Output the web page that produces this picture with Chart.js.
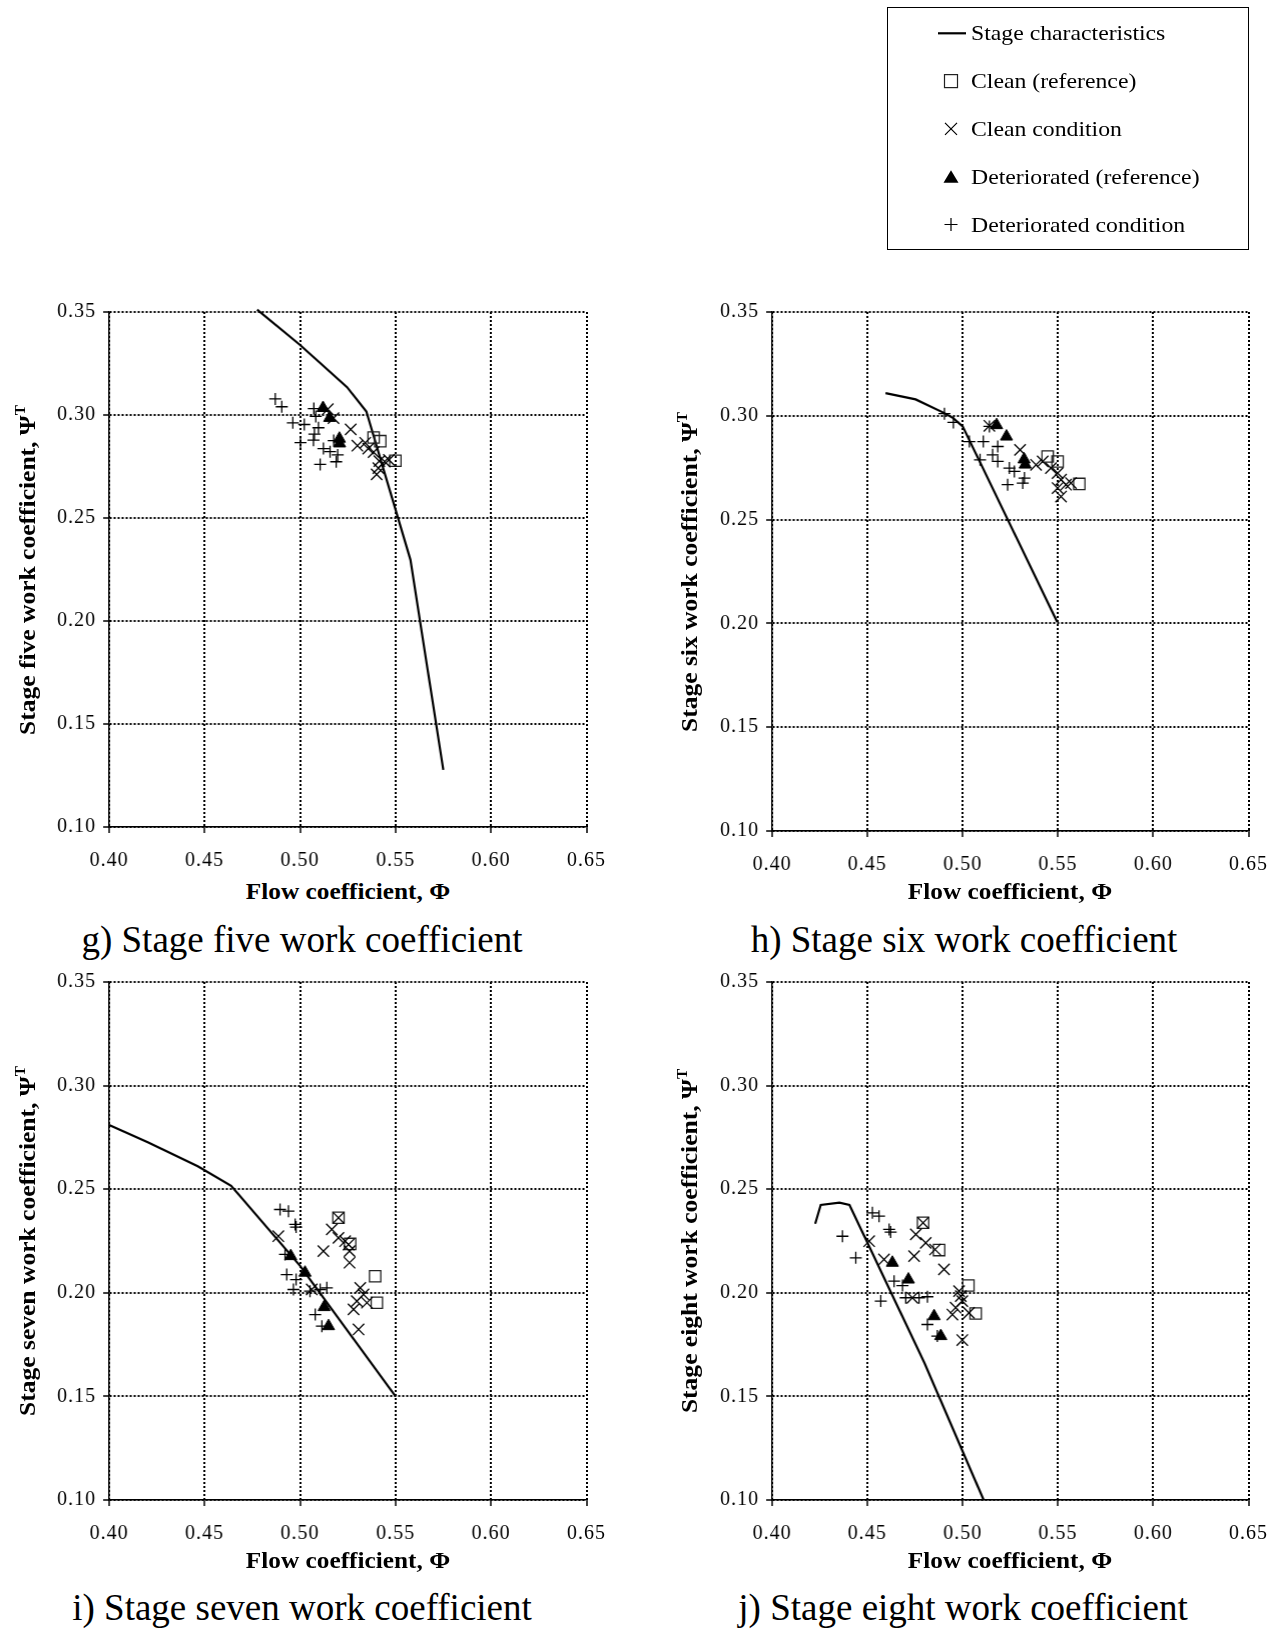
<!DOCTYPE html>
<html>
<head>
<meta charset="utf-8">
<script src="https://cdn.jsdelivr.net/npm/chart.js@4.4.1/dist/chart.umd.min.js"></script>
<style>
  html, body { margin: 0; padding: 0; background: #fff; }
  body { width: 1287px; height: 1632px; position: relative; overflow: hidden;
         font-family: 'Liberation Serif', 'Times New Roman', serif; color: #000; }
  canvas { position: absolute; }
  .legend-box { position: absolute; left: 887px; top: 7px; width: 362px; height: 243px;
                border: 1px solid #000; box-sizing: border-box; }
  .legend-text { position: absolute; font-size: 21px; line-height: 26px; height: 26px;
                 white-space: nowrap; transform: scaleX(1.13); transform-origin: left center; }
  .x-title { position: absolute; width: 400px; text-align: center; font-weight: bold;
             font-size: 23px; line-height: 28px; white-space: nowrap; transform: scaleX(1.1); }
  .y-title { position: absolute; width: 500px; height: 30px; text-align: center; font-weight: bold;
             font-size: 23px; line-height: 30px; white-space: nowrap;
             transform: rotate(-90deg) scaleX(1.11); transform-origin: center center; }
  .y-title sup { font-size: 0.6em; line-height: 0; vertical-align: 0.75em; }
  .caption { position: absolute; width: 600px; text-align: center; font-size: 37px;
             line-height: 44px; white-space: nowrap; }
</style>
</head>
<body>
<div class="legend-box"></div>
<canvas id="legendMarks" width="362" height="243" style="left:887px;top:7px;"></canvas>
<canvas id="c5"></canvas>
<canvas id="c6"></canvas>
<canvas id="c7"></canvas>
<canvas id="c8"></canvas>

<script>
// ---- axis ticks ----
const flowTicks = [0.40, 0.45, 0.50, 0.55, 0.60, 0.65];
const workTicks = [0.10, 0.15, 0.20, 0.25, 0.30, 0.35];

// ---- series names ----
const seriesNames = ['Stage characteristics', 'Clean (reference)', 'Clean condition',
                     'Deteriorated (reference)', 'Deteriorated condition'];

// ---- panel text ----
const panelCaptions = ['g) Stage five work coefficient', 'h) Stage six work coefficient',
                       'i) Stage seven work coefficient', 'j) Stage eight work coefficient'];
const yTitles = ['Stage five work coefficient, ', 'Stage six work coefficient, ',
                 'Stage seven work coefficient, ', 'Stage eight work coefficient, '];
const xTitle = 'Flow coefficient, \u03A6';

// ---- stage five: [flow coefficient, work coefficient] ----
const stage5Curve = [[0.4775,0.3512],[0.5000,0.3340],[0.5246,0.3135],[0.5347,0.3017],[0.5578,0.2297],[0.5750,0.1277]];
const stage5CleanRef = [[0.5385,0.2891],[0.5420,0.2873],[0.5499,0.2778]];
const stage5Clean = [[0.5145,0.3028],[0.5175,0.2985],[0.5265,0.2930],[0.5300,0.2851],[0.5341,0.2865],[0.5357,0.2837],
                     [0.5385,0.2820],[0.5415,0.2776],[0.5443,0.2774],[0.5465,0.2782],[0.5410,0.2742],[0.5401,0.2712]];
const stage5DetRef = [[0.5120,0.3034],[0.5155,0.2986],[0.5206,0.2885],[0.5207,0.2862]];
const stage5Det = [[0.4870,0.3078],[0.4904,0.3040],[0.5072,0.3031],[0.5082,0.2993],[0.4962,0.2962],[0.5022,0.2954],
                   [0.5096,0.2938],[0.5075,0.2907],[0.5070,0.2878],[0.5002,0.2866],[0.5122,0.2837],[0.5157,0.2822],
                   [0.5197,0.2806],[0.5189,0.2773],[0.5105,0.2760],[0.5176,0.2876]];

// ---- stage six ----
const stage6Curve = [[0.4595,0.3109],[0.4753,0.3079],[0.4904,0.3013],[0.4950,0.2989],[0.5000,0.2949],[0.5496,0.2007]];
const stage6CleanRef = [[0.5446,0.2804],[0.5498,0.2780],[0.5612,0.2672]];
const stage6Clean = [[0.5140,0.2952],[0.5301,0.2836],[0.5385,0.2764],[0.5420,0.2780],[0.5463,0.2748],[0.5498,0.2724],
                     [0.5516,0.2692],[0.5498,0.2652],[0.5542,0.2668],[0.5516,0.2611],[0.5568,0.2676]];
const stage6DetRef = [[0.5178,0.2955],[0.5230,0.2900],[0.5322,0.2790],[0.5328,0.2765]];
const stage6Det = [[0.4904,0.3010],[0.4951,0.2968],[0.5035,0.2876],[0.5108,0.2876],[0.5091,0.2788],[0.5157,0.2812],
                   [0.5184,0.2780],[0.5184,0.2852],[0.5245,0.2748],[0.5271,0.2732],[0.5324,0.2700],[0.5315,0.2676],
                   [0.5236,0.2668],[0.5140,0.2949]];

// ---- stage seven ----
const stage7Curve = [[0.4000,0.2810],[0.4205,0.2725],[0.4464,0.2611],[0.4639,0.2516],[0.5000,0.2130],[0.5500,0.1500]];
const stage7CleanRef = [[0.5201,0.2362],[0.5262,0.2236],[0.5393,0.2080],[0.5402,0.1952]];
const stage7Clean = [[0.5201,0.2362],[0.5166,0.2306],[0.5201,0.2265],[0.5122,0.2201],[0.5236,0.2249],[0.5254,0.2233],
                     [0.5259,0.2201],[0.5259,0.2145],[0.4886,0.2273],[0.5061,0.2016],[0.5315,0.2024],[0.5332,0.1992],
                     [0.5297,0.1960],[0.5280,0.1920],[0.5350,0.1952],[0.5306,0.1823]];
const stage7DetRef = [[0.4951,0.2177],[0.5026,0.2097],[0.5126,0.1931],[0.5149,0.1839]];
const stage7Det = [[0.4895,0.2402],[0.4939,0.2394],[0.4974,0.2330],[0.4979,0.2317],[0.4921,0.2185],[0.4930,0.2088],
                   [0.4979,0.2064],[0.4965,0.2016],[0.5052,0.2008],[0.5105,0.2016],[0.5140,0.2024],[0.5079,0.1895],
                   [0.5114,0.1839]];

// ---- stage eight ----
const stage8Curve = [[0.4226,0.2333],[0.4255,0.2424],[0.4353,0.2435],[0.4406,0.2424],[0.4800,0.1660],[0.5110,0.1000]];
const stage8CleanRef = [[0.4792,0.2338],[0.4876,0.2206],[0.5030,0.2035],[0.5068,0.1900]];
const stage8Clean = [[0.4792,0.2338],[0.4754,0.2282],[0.4806,0.2241],[0.4745,0.2177],[0.4855,0.2209],[0.4902,0.2113],
                     [0.4509,0.2249],[0.4587,0.2161],[0.4736,0.1976],[0.4981,0.2008],[0.4990,0.1984],[0.4998,0.1960],
                     [0.4963,0.1928],[0.4946,0.1895],[0.5033,0.1903],[0.4998,0.1772]];
const stage8DetRef = [[0.4631,0.2145],[0.4715,0.2064],[0.4850,0.1887],[0.4885,0.1791]];
const stage8Det = [[0.4526,0.2386],[0.4561,0.2370],[0.4614,0.2306],[0.4622,0.2293],[0.4369,0.2273],[0.4439,0.2169],
                   [0.4640,0.2056],[0.4684,0.2035],[0.4570,0.1960],[0.4701,0.1976],[0.4771,0.1976],[0.4815,0.1981],
                   [0.4815,0.1847],[0.4867,0.1791]];

// ---- page layout: plot-area edges in page pixels ----
const panels = [
  { id: 'c5', area: { left: 109, right: 586, top: 312, bottom: 827 },  titleX: 28,  captionX: 302, xTitleY: 892,  captionY: 940,
    series: [stage5Curve, stage5CleanRef, stage5Clean, stage5DetRef, stage5Det] },
  { id: 'c6', area: { left: 772, right: 1248, top: 312, bottom: 831 }, titleX: 690, captionX: 964, xTitleY: 892,  captionY: 940,
    series: [stage6Curve, stage6CleanRef, stage6Clean, stage6DetRef, stage6Det] },
  { id: 'c7', area: { left: 109, right: 586, top: 982, bottom: 1500 }, titleX: 28,  captionX: 302, xTitleY: 1561, captionY: 1608,
    series: [stage7Curve, stage7CleanRef, stage7Clean, stage7DetRef, stage7Det] },
  { id: 'c8', area: { left: 772, right: 1248, top: 982, bottom: 1500 }, titleX: 690, captionX: 963, xTitleY: 1561, captionY: 1608,
    series: [stage8Curve, stage8CleanRef, stage8Clean, stage8DetRef, stage8Det] }
];

const FONT = "'Liberation Serif', 'Times New Roman', serif";
const tickFont = { family: FONT, size: 20 };

// marker looks shared by the plots; lower "order" is painted on top
const seriesStyles = [
  { showLine: true, pointRadius: 0, borderColor: '#000', borderWidth: 2.2, clip: false, order: 4 },
  { showLine: false, pointStyle: 'rect', pointRadius: 8, pointBackgroundColor: 'rgba(0,0,0,0)',
    pointBorderColor: '#222', pointBorderWidth: 1.3, order: 3 },
  { showLine: false, pointStyle: 'crossRot', pointRadius: 8, pointBorderColor: '#000', pointBorderWidth: 1.3, order: 2 },
  { showLine: false, pointStyle: 'triangle', pointRadius: 7, pointBackgroundColor: '#000',
    pointBorderColor: '#000', pointBorderWidth: 1, order: 1 },
  { showLine: false, pointStyle: 'cross', pointRadius: 6, pointBorderColor: '#000', pointBorderWidth: 1.3, order: 0 }
];

const toXY = arr => arr.map(([x, y]) => ({ x, y }));

const spacedText = {
  id: 'spacedText',
  beforeDraw(chart) { chart.ctx.letterSpacing = '1px'; }
};

const PAD_L = 40, AXIS_W = 60, PAD_R = 30, PAD_T = 20, AXIS_H = 50;

function axisOptions(min, max, tickList, isX) {
  return {
    type: 'linear',
    position: isX ? 'bottom' : 'left',
    min, max,
    afterBuildTicks: s => { s.ticks = tickList.map(v => ({ value: v })); },
    afterFit: s => { if (isX) s.height = AXIS_H; else s.width = AXIS_W; },
    ticks: { callback: v => Number(v).toFixed(2), font: tickFont, color: '#000',
             padding: isX ? 16 : 7, maxRotation: 0, autoSkip: false },
    grid: { color: '#000', lineWidth: 2, tickLength: 6, tickWidth: 1.5, tickColor: '#000', tickBorderDash: [] },
    border: { display: true, color: '#000', width: 1.5, dash: [2, 2] }
  };
}

function addText(cls, html, style) {
  const d = document.createElement('div');
  d.className = cls;
  d.innerHTML = html;
  Object.assign(d.style, style);
  document.body.appendChild(d);
  return d;
}

function buildChart(cv, p, g) {
  cv.width = g.w; cv.height = g.h;
  Object.assign(cv.style, { left: g.left + 'px', top: g.top + 'px', width: g.w + 'px', height: g.h + 'px' });
  return new Chart(cv, {
    type: 'scatter',
    data: {
      datasets: p.series.map((s, k) => Object.assign({ label: seriesNames[k], data: toXY(s) }, seriesStyles[k]))
    },
    options: {
      responsive: false,
      animation: false,
      devicePixelRatio: 1,
      events: [],
      layout: { padding: { left: PAD_L, right: PAD_R, top: PAD_T, bottom: 0 } },
      plugins: { legend: { display: false }, tooltip: { enabled: false }, title: { display: false } },
      scales: {
        x: axisOptions(0.40, 0.65, flowTicks, true),
        y: axisOptions(0.10, 0.35, workTicks, false)
      }
    },
    plugins: [spacedText]
  });
}

panels.forEach((p, i) => {
  const a = p.area;
  const g = { left: a.left - AXIS_W - PAD_L, top: a.top - PAD_T };
  g.w = a.right + PAD_R - g.left;
  g.h = a.bottom + AXIS_H - g.top;
  const cv = document.getElementById(p.id);
  let chart = buildChart(cv, p, g);

  // move / grow the canvas so the plot area lands on the intended page edges
  const ca = chart.chartArea;
  const eL = (g.left + ca.left) - a.left, eR = a.right - (g.left + ca.right);
  const eT = (g.top + ca.top) - a.top, eB = a.bottom - (g.top + ca.bottom);
  if (Math.abs(eL) + Math.abs(eR) + Math.abs(eT) + Math.abs(eB) > 0.5) {
    chart.destroy();
    g.left -= eL; g.w += eL + eR;
    g.top -= eT; g.h += eT + eB;
    chart = buildChart(cv, p, g);
  }

  const cy = (a.top + a.bottom) / 2;
  addText('y-title', yTitles[i] + '\u03A8<sup>T</sup>', { left: (p.titleX - 250) + 'px', top: (cy - 15) + 'px' });
  addText('x-title', xTitle, { left: ((a.left + a.right) / 2 - 200) + 'px', top: (p.xTitleY - 14) + 'px' });
  addText('caption', panelCaptions[i], { left: (p.captionX - 300) + 'px', top: (p.captionY - 22) + 'px' });
});

// ---- legend ----
const legendRows = [33.3, 81.1, 128.9, 176.7, 224.5];
seriesNames.forEach((name, k) => {
  addText('legend-text', name, { left: '971px', top: (legendRows[k] - 13) + 'px' });
});

(function drawLegendMarks() {
  const ctx = document.getElementById('legendMarks').getContext('2d');
  const ox = 887, oy = 7, mx = 951 - ox;
  ctx.strokeStyle = '#000'; ctx.fillStyle = '#000';
  legendRows.forEach((ry, k) => {
    const y = ry - oy;
    ctx.beginPath();
    if (k === 0) {
      ctx.lineWidth = 2.2; ctx.moveTo(938 - ox, y); ctx.lineTo(966 - ox, y); ctx.stroke();
    } else if (k === 1) {
      ctx.lineWidth = 1.2; ctx.strokeStyle = '#222'; ctx.strokeRect(mx - 6.5, y - 6.5, 13, 13); ctx.strokeStyle = '#000';
    } else if (k === 2) {
      ctx.lineWidth = 1.2; ctx.moveTo(mx - 6, y - 6); ctx.lineTo(mx + 6, y + 6);
      ctx.moveTo(mx + 6, y - 6); ctx.lineTo(mx - 6, y + 6); ctx.stroke();
    } else if (k === 3) {
      ctx.moveTo(mx, y - 6.5); ctx.lineTo(mx + 7.5, y + 6); ctx.lineTo(mx - 7.5, y + 6); ctx.closePath(); ctx.fill();
    } else {
      ctx.lineWidth = 1.2; ctx.moveTo(mx - 6.5, y); ctx.lineTo(mx + 6.5, y);
      ctx.moveTo(mx, y - 6.5); ctx.lineTo(mx, y + 6.5); ctx.stroke();
    }
  });
})();
</script>
</body>
</html>
